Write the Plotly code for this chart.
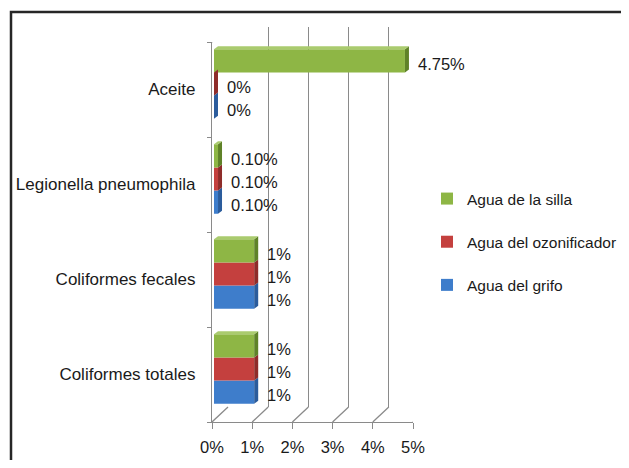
import plotly.graph_objects as go

# ---------------- data ----------------
categories = ["Coliformes totales", "Coliformes fecales", "Legionella pneumophila", "Aceite"]
series_names = ["Agua del grifo", "Agua del ozonificador", "Agua de la silla"]
grifo = [1, 1, 0.10, 0]
ozonificador = [1, 1, 0.10, 0]
silla = [1, 1, 0.10, 4.75]
grifo_labels = ["1%", "1%", "0.10%", "0%"]
ozonificador_labels = ["1%", "1%", "0.10%", "0%"]
silla_labels = ["1%", "1%", "0.10%", "4.75%"]
x_ticks = [0, 1, 2, 3, 4, 5]
x_tick_labels = ["0%", "1%", "2%", "3%", "4%", "5%"]

values = [grifo, ozonificador, silla]
labels = [grifo_labels, ozonificador_labels, silla_labels]
face_colors = ["#3E7DCB", "#C4403E", "#8EB645"]
side_colors = ["#2B5C9C", "#8E2C2A", "#5F8228"]
top_colors = ["#6E9EDA", "#D66D6B", "#AACB6E"]

# ---------------- layout geometry (pixels, as seen in the page) ----------------
OFF = 8                          # page body margin: figure is drawn 8px right/down
W, H = 629 - 2 * OFF, 468 - 2 * OFF  # figure fits the window without overflow
FONT = "Liberation Sans, Arial, sans-serif"
TXT = "#1a1a1a"
GRID = "#8a8a8a"
FS = 16.5
FS_CAT = 17
FS_LEG = 15.5

front_x = (212, 413)
front_y = (42, 422)          # top, bottom
depth = (16, 15)             # back wall offset (right, up)
bar_shift = (2, 5.5)         # bars slightly inside the depth
bargap = 0.27
side_d = (4, 3)              # bar side/top face depth


def px_x(p):
    return (p - OFF) / W


def px_y(p):
    return 1 - (p - OFF) / H


def xdom(a, b):
    return [px_x(a), px_x(b)]


def ydom(top, bottom):
    return [px_y(bottom), px_y(top)]


back_x = (front_x[0] + depth[0], front_x[1] + depth[0])
back_y = (front_y[0] - depth[1], front_y[1] - depth[1])
bar_x = (front_x[0] + bar_shift[0], front_x[1] + bar_shift[0])
bar_y = (front_y[0] - bar_shift[1], front_y[1] - bar_shift[1])

xmax = x_ticks[-1]
px_per_x = (front_x[1] - front_x[0]) / xmax
px_per_cat = (front_y[1] - front_y[0]) / len(categories)
slot = (1 - bargap) / len(series_names)
half_h = slot * px_per_cat / 2

fig = go.Figure()

# back wall (x / y) – only gridlines
fig.add_trace(go.Scatter(x=[0, xmax], y=[0, 1], mode="markers", marker=dict(opacity=0),
                         hoverinfo="skip", showlegend=False, xaxis="x", yaxis="y"))
# front axes (x2 / y2)
fig.add_trace(go.Scatter(x=[0] * len(categories), y=categories, mode="markers",
                         marker=dict(opacity=0), hoverinfo="skip", showlegend=False,
                         xaxis="x2", yaxis="y2"))

# bars (x3 / y3)
n = len(series_names)
for j, name in enumerate(series_names):
    fig.add_trace(go.Bar(
        y=categories, x=values[j], orientation="h", name=name,
        marker=dict(color=face_colors[j], line=dict(width=0)),
        xaxis="x3", yaxis="y3", legendgroup=name, legendrank=n - j, hoverinfo="skip",
    ))

shapes = []
annotations = []
for j in range(n):
    for i, v in enumerate(values[j]):
        yc = i - (1 - bargap) / 2 + (j + 0.5) * slot
        vx = v * px_per_x
        # side face (right)
        shapes.append(dict(
            type="path", xref="x3", yref="y3", xsizemode="pixel", ysizemode="pixel",
            xanchor=0, yanchor=yc,
            path=f"M {vx},{-half_h} L {vx},{half_h} L {vx + side_d[0]},{half_h + side_d[1]} "
                 f"L {vx + side_d[0]},{-half_h + side_d[1]} Z",
            fillcolor=side_colors[j], line=dict(width=0), layer="above"))
        # top face for the topmost bar of each group
        if j == n - 1:
            shapes.append(dict(
                type="path", xref="x3", yref="y3", xsizemode="pixel", ysizemode="pixel",
                xanchor=0, yanchor=yc,
                path=f"M 0,{half_h} L {vx},{half_h} L {vx + side_d[0]},{half_h + side_d[1]} "
                     f"L {side_d[0]},{half_h + side_d[1]} Z",
                fillcolor=top_colors[j], line=dict(width=0), layer="above"))
        annotations.append(dict(
            x=v, y=yc, xref="x3", yref="y3", text=labels[j][i], showarrow=False,
            xanchor="left", yanchor="middle", xshift=11, yshift=-3,
            font=dict(family=FONT, size=FS, color=TXT)))

# floor diagonals from each front tick to the back wall
for t in x_ticks:
    shapes.append(dict(type="line", xref="x2", yref="y2", xsizemode="pixel", ysizemode="pixel",
                       xanchor=t, yanchor=-0.5, x0=0, y0=0, x1=depth[0], y1=depth[1],
                       line=dict(color=GRID, width=1.3)))
# top-left wall diagonal
shapes.append(dict(type="line", xref="x2", yref="y2", xsizemode="pixel", ysizemode="pixel",
                   xanchor=0, yanchor=len(categories) - 0.5, x0=0, y0=0, x1=depth[0], y1=depth[1],
                   line=dict(color=GRID, width=1.3)))
# outer frame (extends past the picture on right and bottom)
shapes.append(dict(type="rect", xref="paper", yref="paper",
                   x0=px_x(11), x1=1.1, y0=-0.1, y1=px_y(12),
                   line=dict(color="#262626", width=2.5), fillcolor="rgba(0,0,0,0)", layer="below"))

fig.update_layout(
    template="none",
    width=W, height=H, autosize=False,
    margin=dict(l=0, r=0, t=0, b=0, pad=0, autoexpand=False),
    paper_bgcolor="white", plot_bgcolor="rgba(0,0,0,0)",
    font=dict(family=FONT, size=FS, color=TXT),
    barmode="group", bargap=bargap, bargroupgap=0,
    showlegend=True,
    legend=dict(x=px_x(427), xanchor="left", y=px_y(242), yanchor="middle",
                traceorder="grouped", tracegroupgap=20,
                font=dict(family=FONT, size=FS_LEG, color=TXT),
                bgcolor="rgba(0,0,0,0)", borderwidth=0),
    xaxis=dict(domain=xdom(*back_x), range=[0, xmax], tickvals=x_ticks, showgrid=True,
               gridcolor=GRID, gridwidth=1.3, showticklabels=False, zeroline=False,
               showline=False, ticks="", anchor="y", automargin=False),
    yaxis=dict(domain=ydom(*back_y), range=[0, 1], visible=False, anchor="x", automargin=False),
    xaxis2=dict(domain=xdom(*front_x), range=[0, xmax], tickvals=x_ticks, ticktext=x_tick_labels,
                showgrid=False, zeroline=False, showline=True, linecolor=GRID, linewidth=1.3,
                ticks="outside", ticklen=6, tickcolor=GRID, tickwidth=1.3,
                ticklabelstandoff=4, anchor="y2", automargin=False,
                tickfont=dict(family=FONT, size=FS, color=TXT)),
    yaxis2=dict(domain=ydom(*front_y), type="category", categoryorder="array",
                categoryarray=categories, range=[-0.5, len(categories) - 0.5],
                showgrid=False, zeroline=False, showline=True, linecolor=GRID, linewidth=1.3,
                ticks="outside", tickson="boundaries", ticklen=4, tickcolor=GRID, tickwidth=1.3,
                ticklabelstandoff=12, anchor="x2", automargin=False,
                tickfont=dict(family=FONT, size=FS_CAT, color=TXT)),
    xaxis3=dict(domain=xdom(*bar_x), range=[0, xmax], visible=False, anchor="y3", automargin=False),
    yaxis3=dict(domain=ydom(*bar_y), type="category", categoryorder="array",
                categoryarray=categories, range=[-0.5, len(categories) - 0.5],
                visible=False, anchor="x3", automargin=False),
    shapes=shapes,
    annotations=annotations,
)

fig.write_html("out.html")
